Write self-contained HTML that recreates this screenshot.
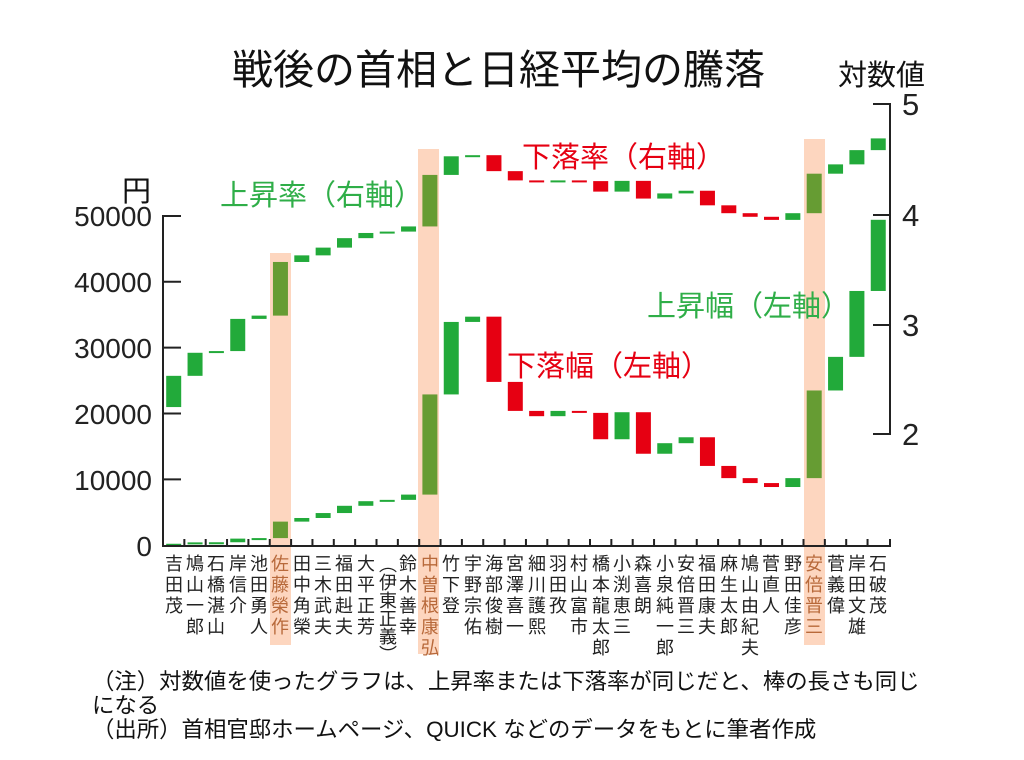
<!DOCTYPE html>
<html><head><meta charset="utf-8"><style>
body{margin:0;background:#fff;}
#c{position:relative;width:1024px;height:760px;overflow:hidden;font-family:"Liberation Sans","Noto Sans CJK JP",sans-serif;color:#111;}
.n{position:absolute;top:554px;width:20px;font-size:18px;line-height:21px;text-align:center;word-break:break-all;color:#222;}
.h{color:#b8693a;}
.t{position:absolute;white-space:nowrap;}
</style></head><body><div id="c">
<svg id="s" width="1024" height="760" style="position:absolute;left:0;top:0">
<rect x="270" y="253" width="21" height="392" fill="#fdd6bf"/>
<rect x="418" y="149" width="21" height="505" fill="#fdd6bf"/>
<rect x="804" y="139" width="21" height="506" fill="#fdd6bf"/>
<g id="bars"></g>
<g stroke="#222" stroke-width="2" fill="none">
<path d="M181 216H163V546H890V539 M873 104H890V434H873 M873 215H890 M873 325H890"/>
<path d="M163 281.7H181 M163 347.6H181 M163 413.5H181 M163 479.4H181" />
<g id="tk"></g>
</g>
<g font-size="28" text-anchor="end" fill="#222" font-family="Liberation Sans,sans-serif">
<text x="152" y="556">0</text><text x="152" y="490">10000</text><text x="152" y="424">20000</text><text x="152" y="358">30000</text><text x="152" y="292">40000</text><text x="152" y="226">50000</text>
</g>
<g font-size="31" fill="#222" font-family="Liberation Sans,sans-serif">
<text x="902" y="115">5</text><text x="902" y="226">4</text><text x="902" y="336">3</text><text x="902" y="445">2</text>
</g>
</svg>
<div class="t" style="left:232px;top:36px;font-size:41px;">戦後の首相と日経平均の騰落</div>
<div class="t" style="left:838px;top:52px;font-size:29px;">対数値</div>
<div class="t" style="left:122px;top:168px;font-size:29px;">円</div>
<div class="t" style="left:220px;top:172px;font-size:29px;color:#2fae48;">上昇率（右軸）</div>
<div class="t" style="left:522px;top:134px;font-size:29px;color:#e60012;">下落率（右軸）</div>
<div class="t" style="left:507px;top:343px;font-size:29px;color:#e60012;">下落幅（左軸）</div>
<div class="t" style="left:647px;top:283px;font-size:29px;color:#2fae48;">上昇幅（左軸）</div>
<div class="t" style="left:92px;top:670px;font-size:22.4px;line-height:24px;">（注）対数値を使ったグラフは、上昇率または下落率が同じだと、棒の長さも同じ<br>になる<br>（出所）首相官邸ホームページ、QUICK などのデータをもとに筆者作成</div>
<div class="n" style="left:164px">吉田茂</div>
<div class="n" style="left:185px">鳩山一郎</div>
<div class="n" style="left:206px">石橋湛山</div>
<div class="n" style="left:228px">岸信介</div>
<div class="n" style="left:249px">池田勇人</div>
<div class="n h" style="left:270px">佐藤榮作</div>
<div class="n" style="left:292px">田中角榮</div>
<div class="n" style="left:313px">三木武夫</div>
<div class="n" style="left:334px">福田赳夫</div>
<div class="n" style="left:356px">大平正芳</div>
<div class="n" style="left:377px;writing-mode:vertical-rl;width:20px;height:110px;line-height:20px;">（伊東正義）</div>
<div class="n" style="left:398px">鈴木善幸</div>
<div class="n h" style="left:420px">中曽根康弘</div>
<div class="n" style="left:441px">竹下登</div>
<div class="n" style="left:463px">宇野宗佑</div>
<div class="n" style="left:484px">海部俊樹</div>
<div class="n" style="left:505px">宮澤喜一</div>
<div class="n" style="left:527px">細川護熙</div>
<div class="n" style="left:548px">羽田孜</div>
<div class="n" style="left:569px">村山富市</div>
<div class="n" style="left:591px">橋本龍太郎</div>
<div class="n" style="left:612px">小渕恵三</div>
<div class="n" style="left:633px">森喜朗</div>
<div class="n" style="left:655px">小泉純一郎</div>
<div class="n" style="left:676px">安倍晋三</div>
<div class="n" style="left:697px">福田康夫</div>
<div class="n" style="left:719px">麻生太郎</div>
<div class="n" style="left:740px">鳩山由紀夫</div>
<div class="n" style="left:761px">菅直人</div>
<div class="n" style="left:783px">野田佳彦</div>
<div class="n h" style="left:804px">安倍晋三</div>
<div class="n" style="left:826px">菅義偉</div>
<div class="n" style="left:847px">岸田文雄</div>
<div class="n" style="left:868px">石破茂</div>
</div>
<script>
var d=[[176,339],[339,550],[550,570],[570,1120],[1120,1200],[1200,3700,1],[3700,4250],[4250,5000],[5000,6100],[6100,6800],[6800,7000],[7000,7800],[7800,23000,1],[23000,34000],[34000,34800],[34800,24900],[24900,20500],[20500,19700],[19700,20500],[20500,20200],[20200,16200],[16200,20300],[20300,14000],[14000,15600],[15600,16500],[16500,12150],[12150,10300],[10300,9550],[9550,8950],[8950,10300],[10300,23600,1],[23600,28700],[28700,38700],[38700,49500]];
var ns="http://www.w3.org/2000/svg",g=document.getElementById('bars'),tk=document.getElementById('tk');
function yl(v){return 546-v*0.00659}function yg(v){return 434-(Math.log10(v)-2)*109.7}
function r(x,y1,y2,c){var a=Math.min(y1,y2),h=Math.max(Math.abs(y1-y2),2);var e=document.createElementNS(ns,'rect');e.setAttribute('x',x);e.setAttribute('y',a);e.setAttribute('width',15);e.setAttribute('height',h);e.setAttribute('fill',c);g.appendChild(e);}
d.forEach(function(p,i){var cx=173.7+21.35*i;var c=p[2]?'#669c33':(p[1]>=p[0]?'#22aa3a':'#e60012');r(cx-7.5,yl(p[0]),yl(p[1]),c);r(cx-7.5,yg(p[0]),yg(p[1]),c);});
var s='';for(var i=1;i<=33;i++){var x=163+21.35*i;s+='M'+x+' 546V539 ';}var e=document.createElementNS(ns,'path');e.setAttribute('d',s);tk.appendChild(e);
</script>
</body></html>
